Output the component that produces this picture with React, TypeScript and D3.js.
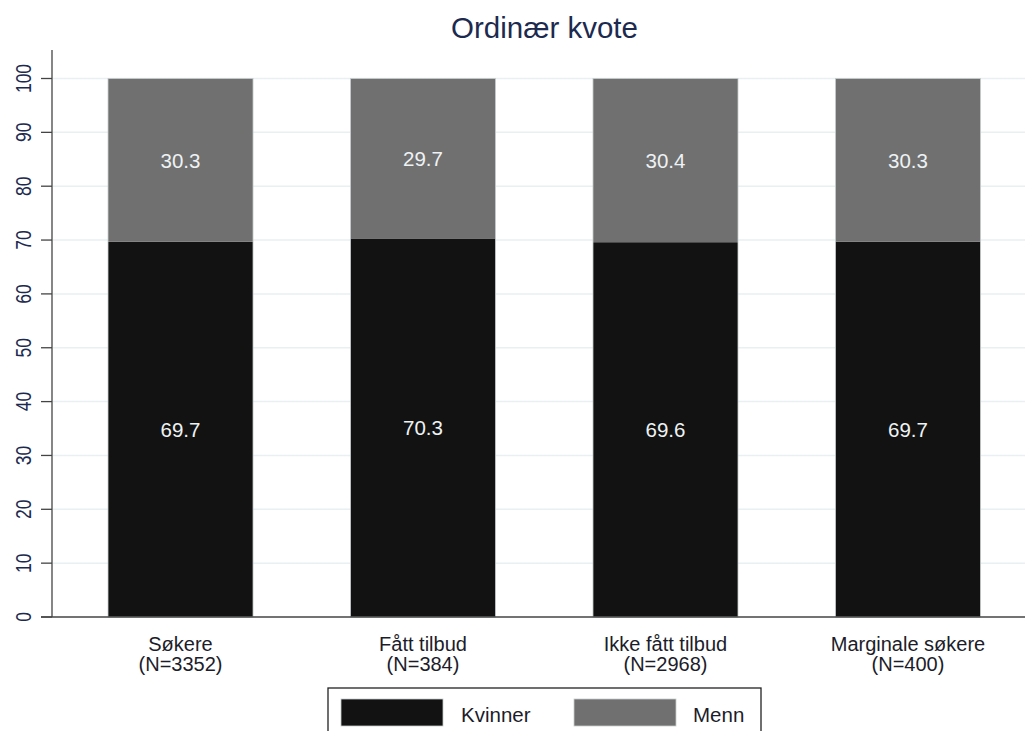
import React from "react";
import * as d3 from "d3";

const categories = ["Søkere", "Fått tilbud", "Ikke fått tilbud", "Marginale søkere"];
const nLabels = ["(N=3352)", "(N=384)", "(N=2968)", "(N=400)"];
const kvinner = [69.7, 70.3, 69.6, 69.7];
const menn = [30.3, 29.7, 30.4, 30.3];
const yTicks = [0, 10, 20, 30, 40, 50, 60, 70, 80, 90, 100];
const seriesNames = ["Kvinner", "Menn"];
const seriesColors = ["#121212", "#707070"];
const title = "Ordinær kvote";

const W = 1025;
const H = 731;
const font = "'Liberation Sans', Arial, sans-serif";

export default function App() {
  const x = d3
    .scaleBand<string>()
    .domain(categories)
    .range([52, 1036.5])
    .paddingInner(0.402)
    .paddingOuter(0.231);
  const y = d3.scaleLinear().domain([0, 100]).range([617, 78.5]);

  const stackData = categories.map((c, i) => ({ cat: c, Kvinner: kvinner[i], Menn: menn[i] }));
  const stacked = d3.stack<any>().keys(seriesNames)(stackData);
  const top = stacked[stacked.length - 1];

  return (
    <svg
      width={W}
      height={H}
      style={{ position: "absolute", left: 0, top: 0, background: "#fff" }}
      fontFamily={font}
    >
      <rect x={0} y={0} width={W} height={H} fill="#fff" />
      <text x={544.5} y={38} textAnchor="middle" fontSize={29.5} fill="#1c2a4f">
        {title}
      </text>
      {yTicks.map((t) => (
        <g key={t}>
          {t > 0 && (
            <line x1={53} x2={W} y1={y(t)} y2={y(t)} stroke="#e8f0f2" strokeWidth={1.5} />
          )}
          <line x1={41} x2={52} y1={y(t)} y2={y(t)} stroke="#444" strokeWidth={1.3} />
          <text
            transform={`translate(31,${y(t)}) rotate(-90) scale(1,1.25)`}
            textAnchor="middle"
            fontSize={17.5}
            fill="#1c2a4f"
          >
            {t}
          </text>
        </g>
      ))}
      {stacked.map((s, si) =>
        s.map((d, i) => {
          const x0 = x(categories[i])!;
          const yTop = y(d[1]);
          const yBot = y(d[0]);
          return (
            <rect
              key={`r${si}-${i}`}
              x={x0}
              y={yTop}
              width={x.bandwidth()}
              height={yBot - yTop}
              fill={seriesColors[si]}
            />
          );
        })
      )}
      {top.map((d, i) => (
        <rect
          key={`o${i}`}
          x={x(categories[i])!}
          y={y(d[1])}
          width={x.bandwidth()}
          height={y(0) - y(d[1])}
          fill="none"
          stroke="#c8cccd"
          strokeWidth={0.8}
        />
      ))}
      {stacked.map((s, si) =>
        s.map((d, i) => {
          const x0 = x(categories[i])!;
          const yTop = y(d[1]);
          const yBot = y(d[0]);
          const val = si === 0 ? kvinner[i] : menn[i];
          return (
            <text
              key={`t${si}-${i}`}
              x={x0 + x.bandwidth() / 2}
              y={(yTop + yBot) / 2 + 7.5}
              textAnchor="middle"
              fontSize={20.5}
              fill="#eef2f4"
            >
              {val.toFixed(1)}
            </text>
          );
        })
      )}
      <line x1={52} x2={52} y1={50} y2={617} stroke="#444" strokeWidth={1.3} />
      <line x1={41} x2={W} y1={617} y2={617} stroke="#444" strokeWidth={1.3} />
      {categories.map((c, i) => (
        <g key={c}>
          <text
            x={x(c)! + x.bandwidth() / 2}
            y={651}
            textAnchor="middle"
            fontSize={20}
            fill="#1c1c2a"
          >
            {c}
          </text>
          <text
            x={x(c)! + x.bandwidth() / 2}
            y={671}
            textAnchor="middle"
            fontSize={20}
            fill="#1c1c2a"
          >
            {nLabels[i]}
          </text>
        </g>
      ))}
      <rect x={328} y={688} width={433} height={60} fill="#fff" stroke="#222" strokeWidth={1.3} />
      {seriesNames.map((s, i) => (
        <g key={s}>
          <rect
            x={341 + i * 233}
            y={699}
            width={102}
            height={27}
            fill={seriesColors[i]}
            stroke="#c8cccd"
            strokeWidth={0.8}
          />
          <text x={461 + i * 232} y={722} fontSize={20.5} fill="#1c1c2a">
            {s}
          </text>
        </g>
      ))}
    </svg>
  );
}
